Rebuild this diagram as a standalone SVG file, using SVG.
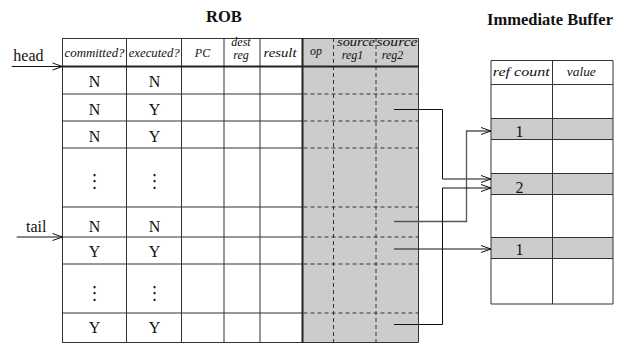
<svg xmlns="http://www.w3.org/2000/svg" width="626" height="345" viewBox="0 0 626 345">
  <style>
    .grid { stroke: #333; stroke-width: 1; fill: none; }
    .thick { stroke: #222; stroke-width: 2; fill: none; }
    .dash { stroke: #333; stroke-width: 1; stroke-dasharray: 4 3; fill: none; }
    .shade { fill: #cccccc; }
    .title { font-family: "Liberation Serif", "Times New Roman", serif; font-weight: bold; font-size: 16.5px; fill: #111; text-anchor: middle; }
    .hdr { font-family: "Liberation Serif", "Times New Roman", serif; font-style: italic; font-size: 12px; fill: #111; text-anchor: middle; }
    .cell { font-family: "Liberation Serif", "Times New Roman", serif; font-size: 16px; fill: #111; text-anchor: middle; }
    .dots { font-family: "DejaVu Sans", sans-serif; font-size: 18px; fill: #111; text-anchor: middle; }
    .lbl { font-family: "Liberation Serif", "Times New Roman", serif; font-size: 16px; fill: #111; }
    .conn { stroke: #111; stroke-width: 1; fill: none; marker-end: url(#arr); }
    .conn2 { stroke: #555; stroke-width: 1.3; fill: none; marker-end: url(#arr); }
  </style>
  <defs>
    <marker id="arr" markerUnits="userSpaceOnUse" markerWidth="12" markerHeight="10" refX="10" refY="3.5" orient="auto" overflow="visible">
      <path d="M0,0 L10,3.5 L0,7" fill="none" stroke="#111" stroke-width="1"/>
    </marker>
  </defs>

  <rect width="626" height="345" fill="#ffffff"/>

  <!-- titles -->
  <text class="title" x="224" y="21.5">ROB</text>
  <text class="title" x="550" y="24.5">Immediate Buffer</text>

  <!-- reorder buffer -->
  <g id="rob">
    <rect class="shade" x="302.5" y="38" width="116" height="305"/>
    <!-- row lines in the plain columns -->
    <path class="grid" d="M62.5,94 H302.5 M62.5,121 H302.5 M62.5,148 H302.5 M62.5,207 H302.5 M62.5,237 H302.5 M62.5,264 H302.5 M62.5,313 H302.5"/>
    <!-- row lines in the shaded columns -->
    <path class="dash" d="M303.5,94 H418.5 M303.5,121 H418.5 M303.5,148 H418.5 M303.5,207 H418.5 M303.5,237 H418.5 M303.5,264 H418.5 M303.5,313 H418.5"/>
    <path class="dash" d="M333.5,38 V343 M376,38 V343"/>
    <!-- column lines -->
    <path class="grid" d="M126.5,38 V343 M181.5,38 V343 M224,38 V343 M260,38 V343"/>
    <!-- outline -->
    <path class="grid" d="M62.5,38.5 H418.5 V342.5 H62.5 Z M62.5,38 V343"/>
    <path class="thick" d="M62.5,66.5 H418.5 M302.5,38 V343"/>

    <!-- header -->
    <text class="hdr" x="94.5" y="57" font-size="11" textLength="60" lengthAdjust="spacingAndGlyphs">committed?</text>
    <text class="hdr" x="154.2" y="57" font-size="11" textLength="51" lengthAdjust="spacingAndGlyphs">executed?</text>
    <text class="hdr" x="202.5" y="57" font-size="14">PC</text>
    <text class="hdr" font-size="11.5"><tspan x="241" y="46">dest</tspan><tspan x="241" y="58.5">reg</tspan></text>
    <text class="hdr" x="280" y="57" font-size="13" textLength="33" lengthAdjust="spacingAndGlyphs">result</text>
    <text class="hdr" x="316" y="55" font-size="13">op</text>
    <text class="hdr" font-size="11.5"><tspan x="356" y="46" textLength="38" lengthAdjust="spacingAndGlyphs">source</tspan><tspan x="352.5" y="58.5">reg1</tspan></text>
    <text class="hdr" font-size="11.5"><tspan x="397" y="46" textLength="41" lengthAdjust="spacingAndGlyphs">source</tspan><tspan x="392.5" y="58.5">reg2</tspan></text>

    <!-- committed? / executed? entries -->
    <text class="cell" x="94.5" y="87.3">N</text>
    <text class="cell" x="154.5" y="87.3">N</text>
    <text class="cell" x="94.5" y="115">N</text>
    <text class="cell" x="154.5" y="115">Y</text>
    <text class="cell" x="94.5" y="142.3">N</text>
    <text class="cell" x="154.5" y="142.3">Y</text>
    <text class="dots" x="94.5" y="187">⋮</text>
    <text class="dots" x="154.5" y="187">⋮</text>
    <text class="cell" x="94.5" y="231.7">N</text>
    <text class="cell" x="154.5" y="231.7">N</text>
    <text class="cell" x="94.5" y="257.3">Y</text>
    <text class="cell" x="154.5" y="257.3">Y</text>
    <text class="dots" x="94.5" y="299">⋮</text>
    <text class="dots" x="154.5" y="299">⋮</text>
    <text class="cell" x="94.5" y="333.3">Y</text>
    <text class="cell" x="154.5" y="333.3">Y</text>
  </g>

  <!-- immediate buffer -->
  <g id="buffer">
    <rect class="shade" x="491" y="118.5" width="122" height="21"/>
    <rect class="shade" x="491" y="173.5" width="122" height="21"/>
    <rect class="shade" x="491" y="237.5" width="122" height="21"/>
    <path class="grid" d="M491,60.5 H613 V304 H491 Z M552.5,60.5 V304"/>
    <path class="grid" d="M491,84.5 H613 M491,139.5 H613 M491,194.5 H613 M491,258.5 H613"/>
    <path class="grid" d="M491,118.5 H613 M491,173.5 H613 M491,237.5 H613" stroke="#111"/>
    <text class="hdr" x="521.3" y="75.7" font-size="13" textLength="57" lengthAdjust="spacingAndGlyphs">ref count</text>
    <text class="hdr" x="581.3" y="75.7" font-size="13" textLength="29" lengthAdjust="spacingAndGlyphs">value</text>
    <text class="cell" x="519.5" y="137.3">1</text>
    <text class="cell" x="519.5" y="192.7">2</text>
    <text class="cell" x="519.5" y="255">1</text>
  </g>

  <!-- pointer labels -->
  <g id="head">
    <text class="lbl" x="13.3" y="60.5">head</text>
  </g>
  <g id="tail">
    <text class="lbl" x="26" y="231.7">tail</text>
  </g>

  <!-- connectors -->
  <g id="connectors">
    <path class="conn" d="M11.7,66.5 H62.5"/>
    <path class="conn" d="M16.7,237 H62.5"/>
    <path class="conn" d="M394,109.5 H442.5 V179 H491"/>
    <path class="conn2" d="M394,221.5 H466.5 V131 H491"/>
    <path class="conn" d="M394,249 H491"/>
    <path class="conn" d="M394,324.5 H442.5 V188 H491"/>
  </g>
</svg>
